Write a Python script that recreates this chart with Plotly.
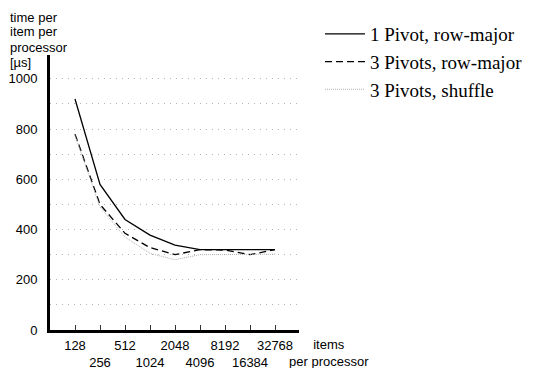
import numpy as np
import plotly.graph_objects as go

items = [128, 256, 512, 1024, 2048, 4096, 8192, 16384, 32768]
one_pivot_row = [920, 580, 440, 378, 338, 320, 320, 320, 320]
three_pivots_row = [780, 500, 385, 328, 300, 320, 318, 300, 320]
three_pivots_shuffle = [775, 490, 370, 305, 280, 300, 300, 300, 302]
names = ["1 Pivot, row-major", "3 Pivots, row-major", "3 Pivots, shuffle"]
y_ticks = [0, 200, 400, 600, 800, 1000]

xpos = np.log2(items)
ticktext = [str(v) if i % 2 == 0 else "<br>" + str(v) for i, v in enumerate(items)]

W, H = 535, 368
L, R, T, B = 50, 236, 55, 38
pw, ph = W - L - R, H - T - B

def px(x):
    return (x - L) / pw

def py(y):
    return (H - B - y) / ph

fig = go.Figure()
fig.add_trace(go.Scatter(x=xpos, y=one_pivot_row, mode="lines", name=names[0],
                         line=dict(color="black", width=1.3)))
fig.add_trace(go.Scatter(x=xpos, y=three_pivots_row, mode="lines", name=names[1],
                         line=dict(color="black", width=1.3, dash="7px,4px")))
fig.add_trace(go.Scatter(x=xpos, y=three_pivots_shuffle, mode="lines", name=names[2],
                         line=dict(color="#b0b0b0", width=1, dash="1px,1px")))

sans = "Liberation Sans, Arial, sans-serif"
grid = dict(gridcolor="#b4b4b4", griddash="1px,5px", gridwidth=1)
fig.update_layout(
    width=W, height=H,
    margin=dict(l=L, r=R, t=T, b=B, pad=0, autoexpand=False),
    paper_bgcolor="white", plot_bgcolor="white",
    font=dict(family=sans, size=13, color="black"),
    showlegend=True,
    legend=dict(x=px(320), y=py(15), xanchor="left", yanchor="top",
                font=dict(family="Liberation Serif, Times New Roman, serif", size=19, color="black"),
                bgcolor="rgba(0,0,0,0)", itemwidth=40, tracegroupgap=0),
    xaxis=dict(range=[6, 6 + pw / 25.0], tickvals=xpos, ticktext=ticktext,
               tickangle=0, automargin=False,
               ticks="inside", ticklen=5, tickwidth=1, tickcolor="#333",
               showline=True, linewidth=3, linecolor="black",
               showgrid=False, zeroline=False, ticklabelstandoff=1,
               tickfont=dict(family=sans, size=13, color="black")),
    yaxis=dict(range=[0, 1095], tickvals=y_ticks, ticks="", automargin=False,
               showline=True, linewidth=3, linecolor="black",
               showgrid=True, **grid,
               minor=dict(dtick=100, tick0=0, showgrid=True, **grid),
               zeroline=False, ticklabelstandoff=7,
               tickfont=dict(family=sans, size=13, color="black")),
)

title_lines = ["time per", "item per", "processor", "[µs]"]
title_y = [17, 32, 47, 63]
for t, yy in zip(title_lines, title_y):
    fig.add_annotation(text=t, xref="paper", yref="paper", x=px(8), y=py(yy),
                       xanchor="left", yanchor="middle", showarrow=False,
                       font=dict(family=sans, size=13, color="black"))

fig.add_annotation(text="items<br>per processor", xref="paper", yref="paper",
                   x=px(329), y=py(353), xanchor="center", yanchor="middle",
                   showarrow=False, align="center",
                   font=dict(family=sans, size=13, color="black"))

fig.write_html("out.html")
